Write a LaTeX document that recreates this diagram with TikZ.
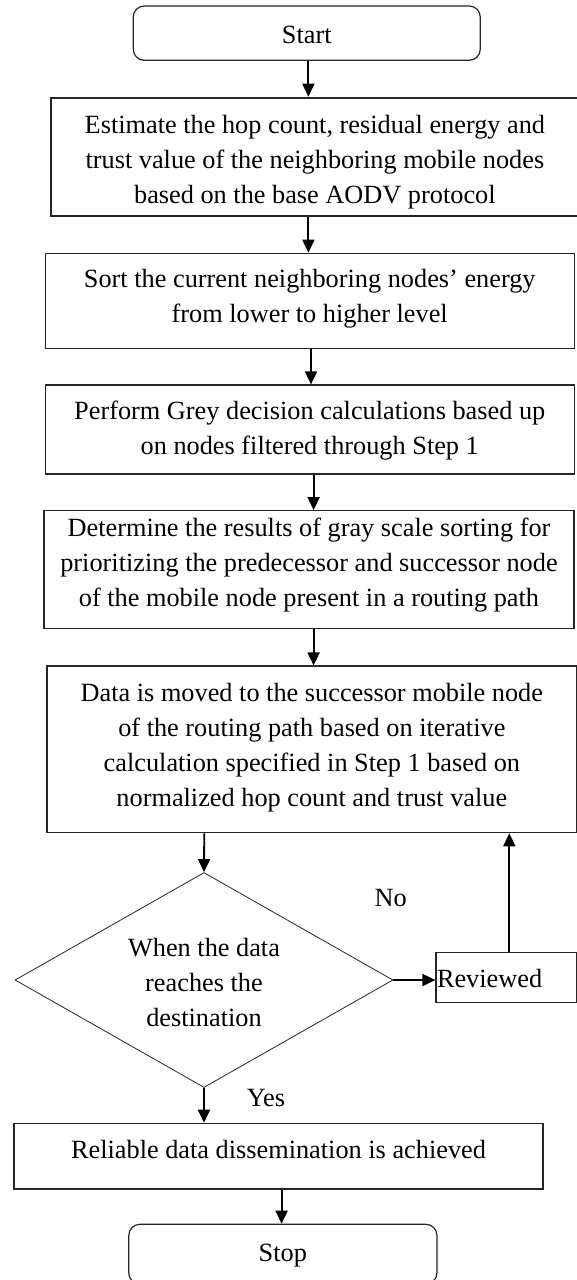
\documentclass[tikz,border=0pt]{standalone}
\usepackage{fontspec}
\setmainfont{Liberation Serif}
\usetikzlibrary{shapes.geometric,arrows.meta}
\newcommand\topstr[1]{\rule{0pt}{#1pt}}
\newcommand\botstr[1]{\rule[-#1pt]{0pt}{#1pt}}
\begin{document}
\begin{tikzpicture}[x=1pt,y=-1pt,
  every node/.style={font=\fontsize{26.3}{35}\selectfont, inner sep=0pt},
  box/.style={draw=black!85, line width=1.2pt, align=center},
  term/.style={box, rounded corners=11pt},
  arr/.style={line width=1.9pt, -{Triangle[length=13pt,width=12pt]}},
  decision/.style={draw=black!85, diamond, line width=0.8pt, align=center, aspect=1.76},
  lbl/.style={anchor=base}]
\clip (0,0) rectangle (577,1280);
\fill[white] (0,0) rectangle (577,1280);

% boxes
\node[term, minimum width=347pt, minimum height=54.3pt] (start) at (306.75,33.15)
  {\topstr{26.3}Start\botstr{6}};
\node[box, line width=2pt, minimum width=528.2pt, minimum height=118.3pt] (b2) at (314.9,156.85)
  {\topstr{28.9}Estimate the hop count, residual energy and\\
   trust value of the neighboring mobile nodes\\
   based on the base AODV protocol\botstr{6}};
\node[box, minimum width=528.9pt, minimum height=95pt] (b3) at (309.75,300.8)
  {\topstr{19}Sort the current neighboring nodes’ energy\\
   from lower to higher level\botstr{11}};
\node[box, minimum width=528.9pt, minimum height=89pt] (b4) at (309.75,429.5)
  {\topstr{20.6}Perform Grey decision calculations based up\\
   on nodes filtered through Step 1\botstr{6}};
\node[box, minimum width=530pt, minimum height=117.6pt] (b5) at (309,569.5)
  {\topstr{19}Determine the results of gray scale sorting for\\
   prioritizing the predecessor and successor node\\
   of the mobile node present in a routing path\botstr{14.6}};
\node[box, minimum width=529.7pt, minimum height=166.7pt] (b6) at (311.85,749.35)
  {\topstr{19}Data is moved to the successor mobile node\\
   of the routing path based on iterative\\
   calculation specified in Step 1 based on\\
   normalized hop count and trust value\botstr{10.7}};
\node[decision, minimum width=378pt, minimum height=215pt] (dec) at (204,980)
  {\topstr{29.4}When the data\\
   reaches the\\
   destination\botstr{6}};
\node[box, text width=138.7pt, inner xsep=1pt, align=left, minimum height=50pt] (rev) at (506.35,977.7)
  {\topstr{25.2}Reviewed\botstr{6}};
\node[box, minimum width=529pt, minimum height=65.7pt] (rel) at (278.5,1156.15)
  {\topstr{19}Reliable data dissemination is achieved\botstr{14.7}};
\node[term, minimum width=308.1pt, minimum height=59.7pt] (stop) at (282.85,1254.15)
  {\topstr{21.1}Stop\botstr{6}};

% labels
\node[lbl] (no) at (390.7,906.7) {No};
\node[lbl] (yes) at (266,1106.7) {Yes};

% arrow columns
\coordinate (x1) at (308.4,0);
\coordinate (x3) at (311,0);
\coordinate (x4) at (313.6,0);
\coordinate (x6) at (204.3,0);
\coordinate (x8) at (509.3,0);
\coordinate (x10) at (281.6,0);

\draw[arr] (start.south -| x1) -- (b2.north -| x1);
\draw[arr] (b2.south -| x1) -- (b3.north -| x1);
\draw[arr] (b3.south -| x3) -- (b4.north -| x3);
\draw[arr] (b4.south -| x4) -- (b5.north -| x4);
\draw[arr] (b5.south -| x4) -- (b6.north -| x4);
\draw[arr] (b6.south -| x6) -- (dec.north);
\draw[arr] (dec.east) -- (dec.east -| rev.west);
\draw[arr] (rev.north -| x8) -- (b6.south -| x8);
\draw[arr] (dec.south) -- (rel.north -| dec.south);
\draw[arr] (rel.south -| x10) -- (stop.north -| x10);
\end{tikzpicture}
\end{document}
